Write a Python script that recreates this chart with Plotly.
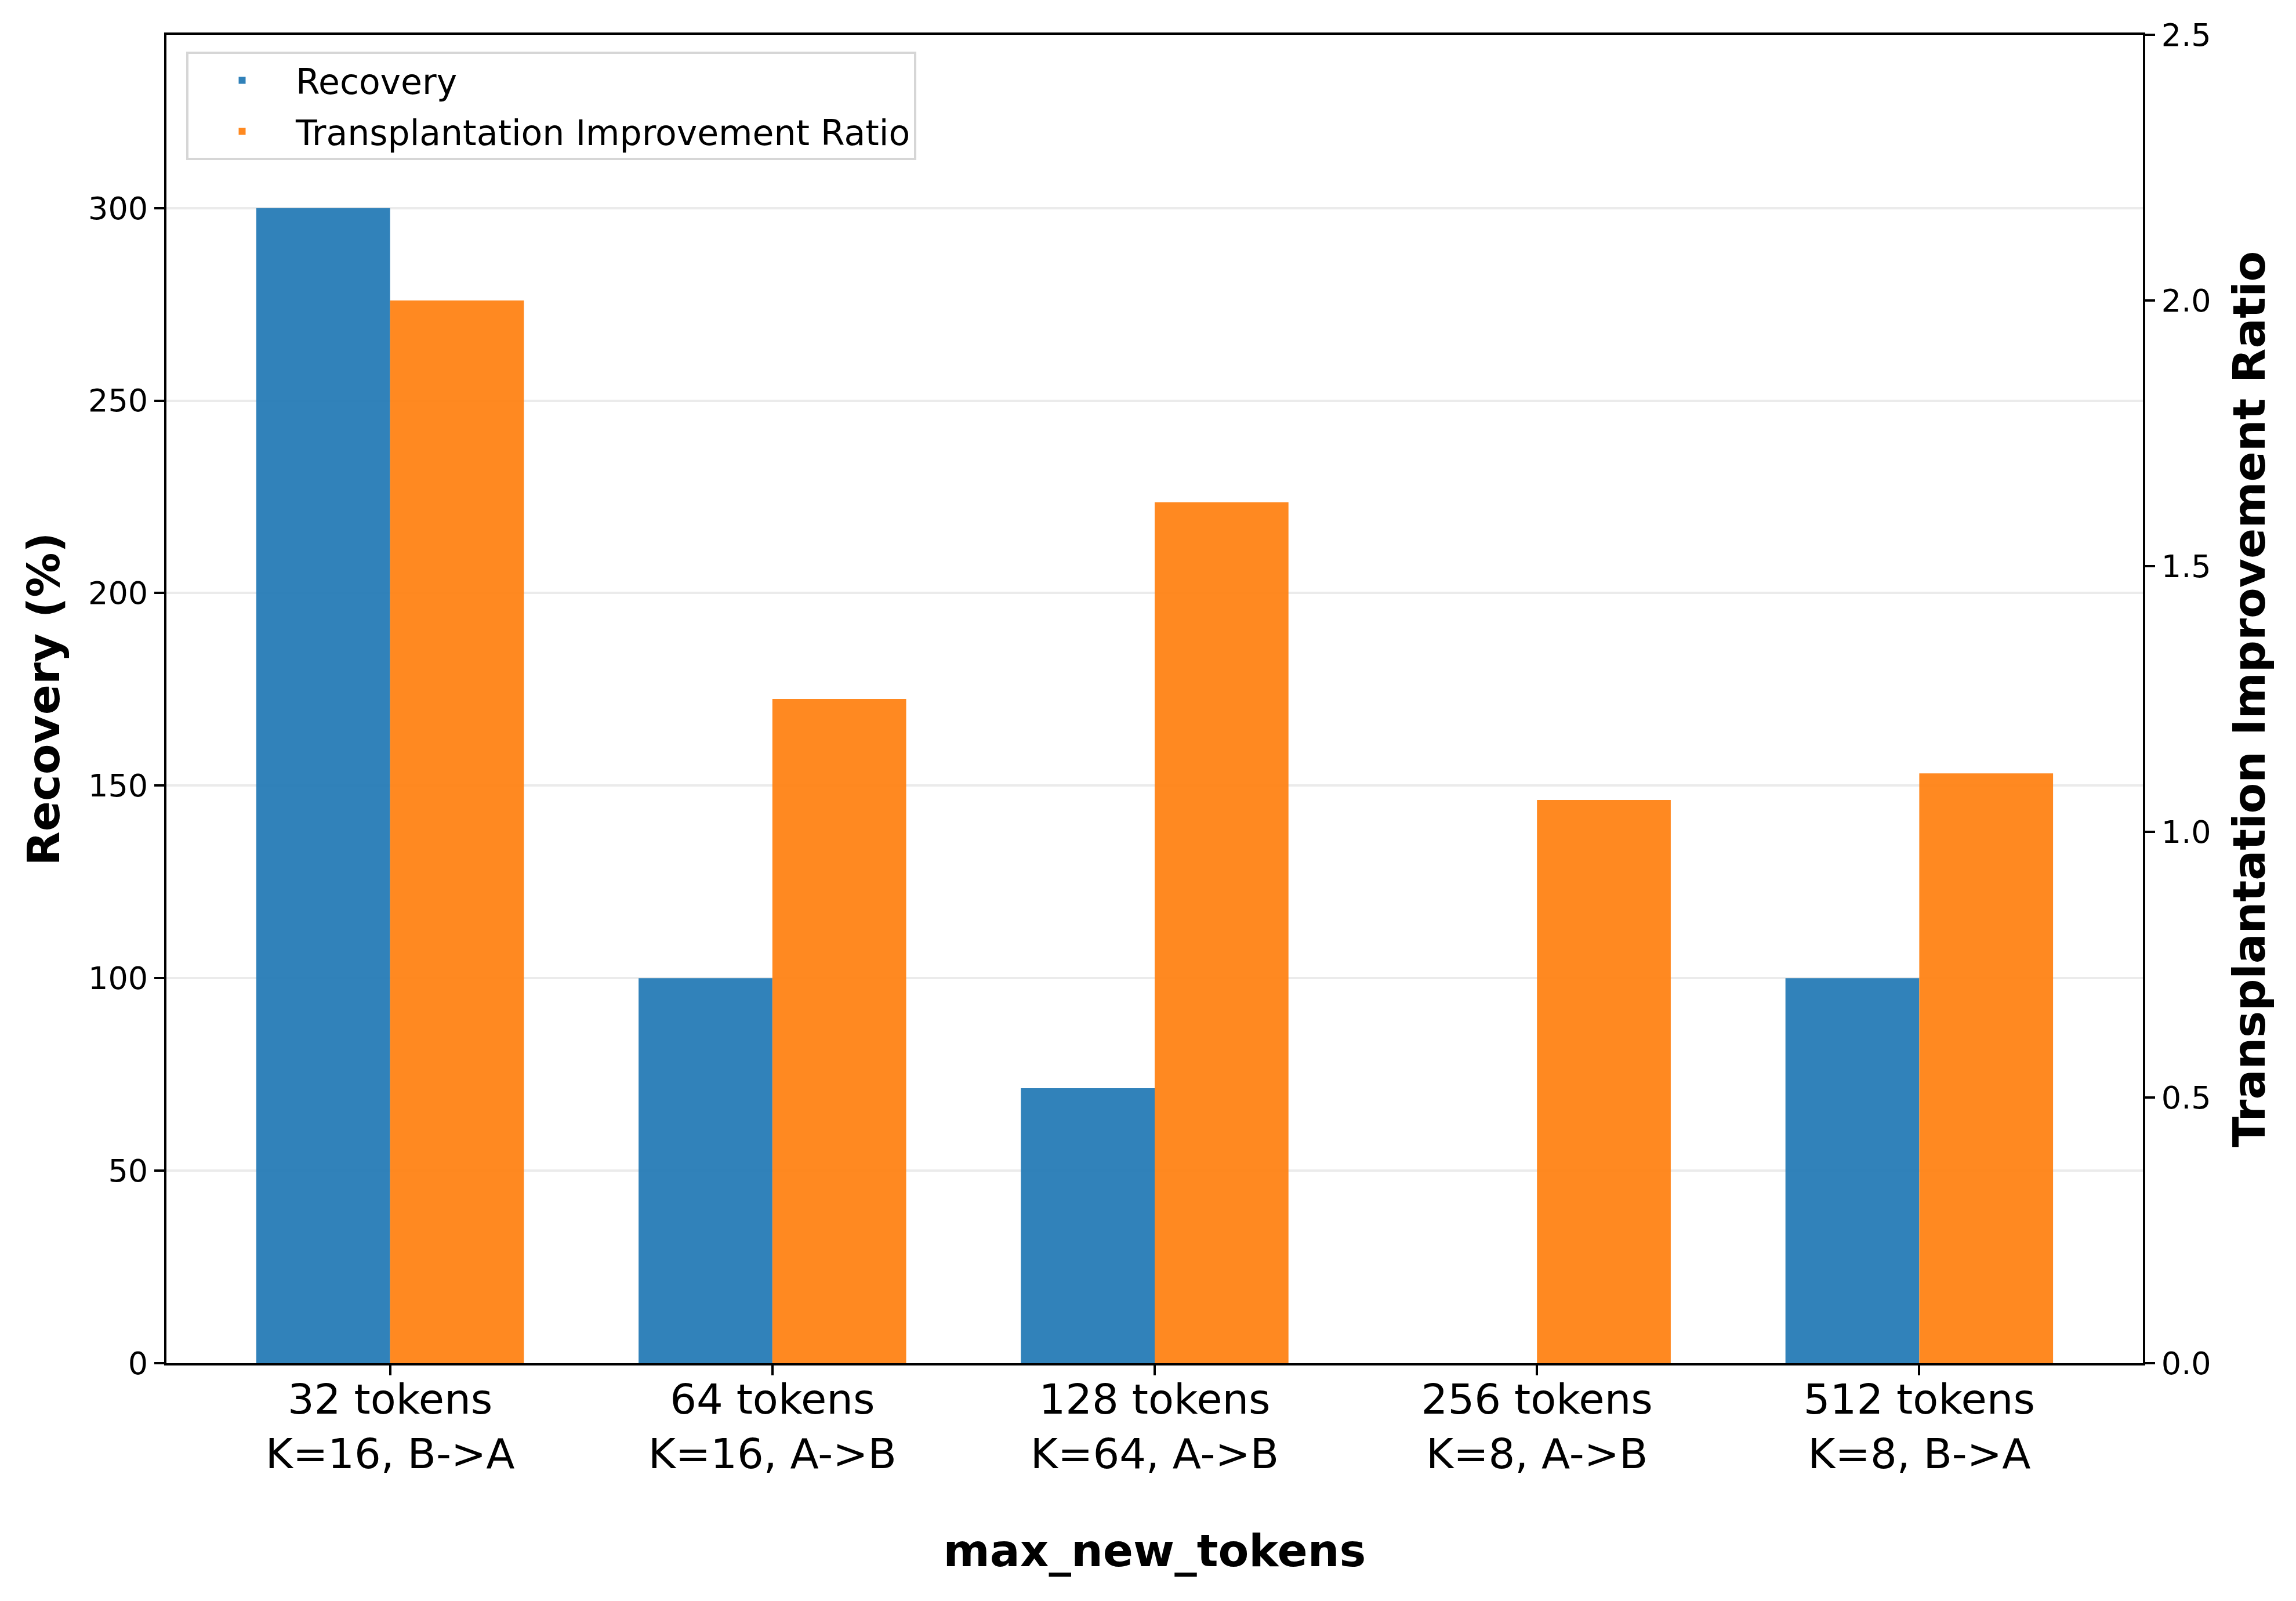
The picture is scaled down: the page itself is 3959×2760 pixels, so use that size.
import plotly.graph_objects as go

# ---- data ----
token_labels = ["32 tokens", "64 tokens", "128 tokens", "256 tokens", "512 tokens"]
config_labels = ["K=16, B->A", "K=16, A->B", "K=64, A->B", "K=8, A->B", "K=8, B->A"]
recovery = [300.0, 100.0, 71.4, 0.0, 100.0]
improvement_ratio = [2.00, 1.25, 1.62, 1.06, 1.11]

x_pos = list(range(len(token_labels)))
tick_text = [f"{a}<br>{b}" for a, b in zip(token_labels, config_labels)]

W, H = 3959, 2760
L, R, T, B = 279, 272, 52, 418
FONT = "DejaVu Sans"
BAR_W = 0.35

fig = go.Figure()
fig.add_trace(go.Bar(
    x=x_pos, y=recovery, name="Recovery", legendgroup="rec",
    width=BAR_W, offset=-BAR_W,
    marker=dict(color="#1f77b4", line=dict(width=0)), opacity=0.92,
    yaxis="y",
))
fig.add_trace(go.Bar(
    x=x_pos, y=improvement_ratio, name="Transplantation Improvement Ratio", legendgroup="tir",
    width=BAR_W, offset=0,
    marker=dict(color="#ff7f0e", line=dict(width=0)), opacity=0.92,
    yaxis="y2",
))

axis_common = dict(
    showline=True, linecolor="black", linewidth=4,
    ticks="outside", ticklen=17, tickwidth=4, tickcolor="black",
    zeroline=False,
)

fig.update_layout(
    width=W, height=H,
    margin=dict(l=L, r=R, t=T, b=B, autoexpand=False),
    paper_bgcolor="white", plot_bgcolor="white",
    barmode="overlay",
    font=dict(family=FONT, color="black"),
    xaxis=dict(
        **axis_common,
        mirror=True,
        range=[-0.585, 4.585],
        tickmode="array", tickvals=x_pos, ticktext=tick_text,
        tickfont=dict(size=72, family=FONT, color="black"),
        ticklabelstandoff=-20,
        showgrid=False,
        title=dict(text="<b>max_new_tokens</b>", font=dict(size=77, family=FONT, color="black"), standoff=100),
    ),
    yaxis=dict(
        **axis_common,
        range=[0, 345], dtick=50, tick0=0,
        tickfont=dict(size=54, family=FONT, color="black"),
        showgrid=True, gridcolor="#ebebeb", gridwidth=4,
        title=dict(text="<b>Recovery (%)</b>", font=dict(size=77, family=FONT, color="black"), standoff=25),
    ),
    yaxis2=dict(
        **axis_common,
        overlaying="y", side="right", anchor="x",
        range=[0, 2.5], dtick=0.5, tick0=0, tickformat=".1f",
        tickfont=dict(size=54, family=FONT, color="black"),
        showgrid=False,
        title=dict(text="<b>Transplantation Improvement Ratio</b>", font=dict(size=77, family=FONT, color="black"), standoff=40),
    ),
    legend=dict(
        x=(313 - L) / (W - L - R), y=1 - (81 - T) / (H - T - B),
        xanchor="left", yanchor="top",
        bgcolor="rgba(255,255,255,0.9)", bordercolor="#d6d6d6", borderwidth=4,
        font=dict(size=60, family=FONT, color="black"),
        itemwidth=175, tracegroupgap=7,
    ),
)

fig.write_html("out.html")
